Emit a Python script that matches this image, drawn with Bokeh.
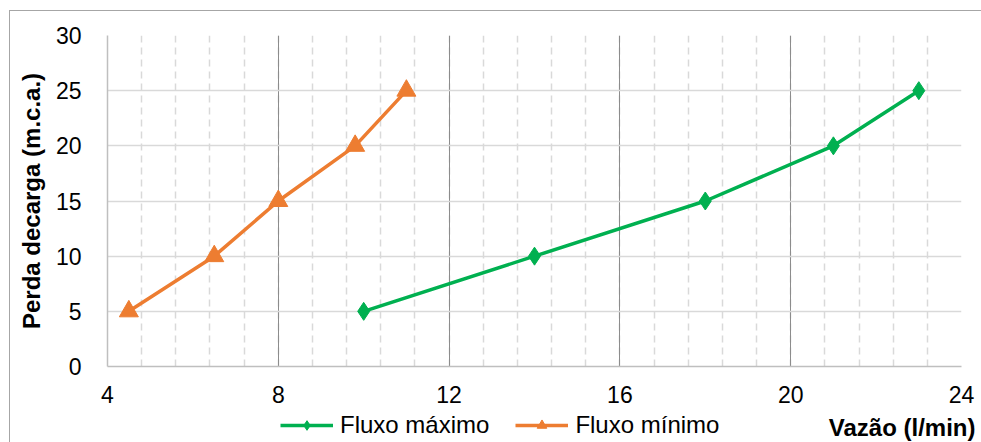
from bokeh.plotting import figure
from bokeh.layouts import column, row
from bokeh.models import (ColumnDataSource, Range1d, SingleIntervalTicker, Legend,
                          LegendItem, Label)
from bokeh.embed import file_html
from bokeh.resources import INLINE

# data
max_x = [10, 14, 18, 21, 23]
max_y = [5, 10, 15, 20, 25]
min_x = [4.5, 6.5, 8, 9.8, 11]
min_y = [5, 10, 15, 20, 25]
series_names = ["Fluxo máximo", "Fluxo mínimo"]
x_title = "Vazão (l/min)"
y_title = "Perda decarga (m.c.a.)"

GREEN = "#00B050"
ORANGE = "#ED7D31"
FONT = "Liberation Sans"

p = figure(width=971, height=397, output_backend="svg", toolbar_location=None,
           x_range=Range1d(4, 24), y_range=Range1d(0, 30),
           min_border_left=97, min_border_right=20, min_border_top=24,
           min_border_bottom=42)
p.outline_line_color = None
p.background_fill_color = "white"
p.border_fill_color = "white"

xt = SingleIntervalTicker(interval=4, num_minor_ticks=5)
yt = SingleIntervalTicker(interval=5, num_minor_ticks=0)
p.xaxis.ticker = xt
p.yaxis.ticker = yt
p.xgrid.ticker = xt
p.ygrid.ticker = yt

p.xgrid.grid_line_color = "#8c8c8c"
p.xgrid.grid_line_width = 1
p.xgrid.minor_grid_line_color = "#d9d9d9"
p.xgrid.minor_grid_line_dash = "7 5"
p.xgrid.minor_grid_line_width = 1.5
p.ygrid.grid_line_color = "#d9d9d9"
p.ygrid.grid_line_width = 1.5

for ax in (p.xaxis[0], p.yaxis[0]):
    ax.axis_line_color = "#bfbfbf"
    ax.axis_line_width = 1.5
    ax.major_tick_line_color = None
    ax.minor_tick_line_color = None
    ax.major_label_text_font = FONT
    ax.major_label_text_font_size = "23px"
    ax.major_label_text_color = "#000000"

p.xaxis.major_label_standoff = 13
p.yaxis.major_label_standoff = 20

p.yaxis.axis_label = y_title
p.yaxis.axis_label_text_font = FONT
p.yaxis.axis_label_text_font_size = "24px"
p.yaxis.axis_label_text_font_style = "bold"
p.yaxis.axis_label_text_color = "#000000"
p.yaxis.axis_label_standoff = 8

src_max = ColumnDataSource(dict(x=max_x, y=max_y))
src_min = ColumnDataSource(dict(x=min_x, y=min_y))

p.line("x", "y", source=src_max, line_color=GREEN, line_width=3.5)
p.scatter("x", "y", source=src_max, marker="diamond", size=18,
          fill_color=GREEN, line_color=GREEN)
p.line("x", "y", source=src_min, line_color=ORANGE, line_width=3.5)
p.scatter("x", "y", source=src_min, marker="triangle", size=19,
          fill_color=ORANGE, line_color=ORANGE)

# bottom strip: legend + x-axis title (its own full-width frame, page-pixel units)
f2 = figure(width=971, height=34, output_backend="svg", toolbar_location=None,
            x_range=Range1d(10, 981), y_range=Range1d(0, 34),
            x_axis_type=None, y_axis_type=None,
            min_border_left=0, min_border_right=0,
            min_border_top=0, min_border_bottom=0)
f2.grid.visible = False
f2.outline_line_color = None
f2.background_fill_color = "white"
f2.border_fill_color = "white"

nan = float("nan")
dummy = ColumnDataSource(dict(x=[nan], y=[nan]))
gl = f2.line("x", "y", source=dummy, line_color=GREEN, line_width=3.5)
gm = f2.scatter("x", "y", source=dummy, marker="diamond", size=17,
                fill_color=GREEN, line_color=GREEN)
ol = f2.line("x", "y", source=dummy, line_color=ORANGE, line_width=3.5)
om = f2.scatter("x", "y", source=dummy, marker="triangle", size=18,
                fill_color=ORANGE, line_color=ORANGE)

legend = Legend(items=[LegendItem(label=series_names[0], renderers=[gl, gm]),
                       LegendItem(label=series_names[1], renderers=[ol, om])],
                orientation="horizontal", location=(270, 3))
legend.label_text_font = FONT
legend.label_text_font_size = "24px"
legend.label_text_color = "#000000"
legend.glyph_width = 53
legend.glyph_height = 24
legend.label_standoff = 7
legend.spacing = 26
legend.padding = 0
legend.margin = 0
legend.border_line_color = None
legend.background_fill_alpha = 0
f2.add_layout(legend, "center")

xlab = Label(x=975, y=15, text=x_title, text_align="right",
             text_baseline="middle", text_font=FONT, text_font_size="24px",
             text_font_style="bold", text_color="#000000")
f2.add_layout(xlab)

layout = column(p, row(f2), margin=(10, 0, 0, 9),
                stylesheets=[":host { border-left: 1px solid #a6a6a6; "
                             "border-top: 1px solid #a6a6a6; }"])

open("out.html", "w").write(file_html(layout, INLINE))
